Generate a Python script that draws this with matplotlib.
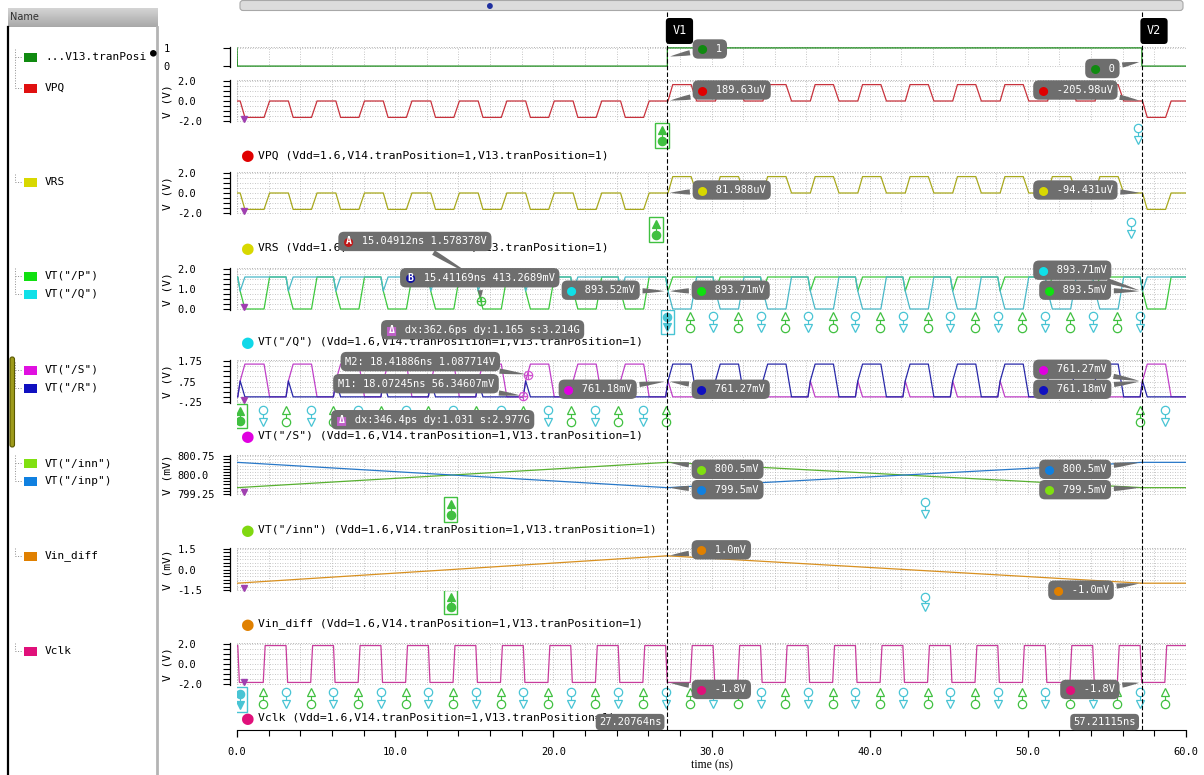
import numpy as np
import matplotlib
matplotlib.use("Agg")
import matplotlib.pyplot as plt
from matplotlib.patches import Rectangle, FancyBboxPatch
from matplotlib.ticker import MultipleLocator

W, H = 1204, 775
MONO = "DejaVu Sans Mono"
plt.rcParams['font.family'] = MONO

# ---------------- data read off the waveform viewer ----------------
# clock edges (ns)
clk_fall = [0.05, 3.1, 6.1, 9.1, 12.1, 15.1, 18.1, 21.1, 24.1, 27.1,
            30.1, 33.1, 36.1, 39.1, 42.1, 45.1, 48.1, 51.1, 54.1, 57.1]
clk_rise = [1.66, 4.66, 7.66, 10.66, 13.66, 16.66, 19.66, 22.66, 25.66, 28.66,
            31.66, 34.66, 37.66, 40.66, 43.66, 46.66, 49.66, 52.66, 55.66, 58.66]
vclk_hi, vclk_lo = 1.8, -1.8

# level reached in every clock-low (evaluation) phase, one per cycle
vpq_eval = [-1.6, -1.6, -1.6, -1.6, -1.6, -1.6, -1.6, -1.6, -1.6, 1.6,
            1.6, 1.6, 1.6, 1.6, 1.6, 1.6, 1.6, 1.6, 1.6, -1.6]
vrs_eval = [-1.6, -1.6, -1.6, -1.6, -1.6, -1.6, -1.6, -1.6, -1.6, 1.6,
            1.6, 1.6, 1.6, 1.6, 1.6, 1.6, 1.6, 1.6, 1.6, -1.6]
p_eval = [0.0, 0.0, 0.0, 0.0, 0.0, 0.0, 0.0, 0.0, 0.0, 1.6,
          1.6, 1.6, 1.6, 1.6, 1.6, 1.6, 1.6, 1.6, 1.6, 0.0]
q_eval = [1.6, 1.6, 1.6, 1.6, 1.6, 1.6, 1.6, 1.6, 1.6, 0.0,
          0.0, 0.0, 0.0, 0.0, 0.0, 0.0, 0.0, 0.0, 0.0, 1.6]
s_eval = [1.6, 1.6, 1.6, 1.6, 1.6, 1.6, 1.6, 1.6, 1.6, 0.0,
          0.0, 0.0, 0.0, 0.0, 0.0, 0.0, 0.0, 0.0, 0.0, 1.6]
r_eval = [0.0, 0.0, 0.0, 0.0, 0.0, 0.0, 0.0, 0.0, 0.0, 1.6,
          1.6, 1.6, 1.6, 1.6, 1.6, 1.6, 1.6, 1.6, 1.6, 0.0]
pq_idle, pq_mid = 1.6, 0.9
sr_idle, sr_mid = 0.0, 0.78

pos_t = [0.0, 0.02, 27.21, 27.21, 57.21, 57.21, 60.0]
pos_v = [1, 0, 0, 1, 1, 0, 0]

ramp_t = [0.0, 27.21, 57.21, 60.0]
inn_mv = [799.5, 800.5, 799.5, 799.5]
inp_mv = [800.5, 799.5, 800.5, 800.5]
vin_diff_mv = [-1.0, 1.0, -1.0, -1.0]

v1, v2 = 27.20764, 57.21115
start_marker_t = 0.45

names = ['...V13.tranPosi', 'VPQ', 'VRS', 'VT("/P")', 'VT("/Q")', 'VT("/S")',
         'VT("/R")', 'VT("/inn")', 'VT("/inp")', 'Vin_diff', 'Vclk']
swatch = ['#108a10', '#e01010', '#d8d800', '#10e010', '#10e0e8', '#e010e0',
          '#1010c0', '#80e010', '#1080e0', '#e08000', '#e0107a']
suffix = ' (Vdd=1.6,V14.tranPosition=1,V13.tranPosition=1)'


def edge_wave(idle, mid, evals):
    t, v = [0.0], [idle]
    for f, r, a in zip(clk_fall, clk_rise, evals):
        t += [f, f + 0.15, f + 0.45, r + 0.05, r + 0.4]
        v += [idle, mid, a, a, idle]
    t.append(60.0)
    v.append(idle)
    return t, v


def clock_wave():
    t, v = [0.0], [vclk_hi]
    for f, r in zip(clk_fall, clk_rise):
        t += [f, f + 0.1, r, r + 0.12]
        v += [vclk_hi, vclk_lo, vclk_lo, vclk_hi]
    t.append(60.0)
    v.append(vclk_hi)
    return t, v


fig = plt.figure(figsize=(W / 100, H / 100), dpi=100)
fig.patch.set_facecolor('white')


def px_axes(x0, y0, x1, y1):
    return fig.add_axes([x0 / W, 1 - y1 / H, (x1 - x0) / W, (y1 - y0) / H])


# ---------------- background chrome (pixel coordinates) ----------------
bg = px_axes(0, 0, W, H)
grad = np.linspace(0.83, 0.66, 20).reshape(-1, 1)
bg.imshow(grad, extent=(8, 158, 27, 8), cmap='gray', vmin=0, vmax=1, aspect='auto')
bg.set_xlim(0, W)
bg.set_ylim(H, 0)
bg.axis('off')
bg.text(10, 17.5, 'Name', fontsize=7, color='#303030', va='center', family='DejaVu Sans')
bg.plot([8, 8], [27, H], color='black', lw=1.6)
bg.plot([157, 157], [27, H], color='#b4b4b4', lw=2)
bg.add_patch(FancyBboxPatch((10, 357), 4.5, 90, boxstyle='round,pad=0,rounding_size=2.2',
                            fc='#9e9b1c', ec='#5a5800', lw=0.8))
bg.text(153, 52, '●', fontsize=8, color='black', ha='center', va='center')
row_y = [57, 88, 182, 276, 294, 370, 388, 463, 481, 556, 651]
groups = [(57, 88), (182, 182), (276, 294), (370, 388), (463, 481), (556, 556), (651, 651)]
for g0, g1 in groups:
    bg.plot([15, 15], [g0 - 8, g1], color='#909090', lw=0.7, ls=':')
for y, n, c in zip(row_y, names, swatch):
    bg.plot([15, 22], [y, y], color='#909090', lw=0.7, ls=':')
    bg.add_patch(Rectangle((24, y - 4.5), 13, 9, fc=c, ec='none'))
    bg.text(45, y, n, fontsize=8, va='center', color='black')

# scroll bar on top
bg.add_patch(FancyBboxPatch((240, 0.5), 943, 10, boxstyle='round,pad=0,rounding_size=3',
                            fc='#dcdcdc', ec='#a8a8a8', lw=0.8))
bg.text(490, 6, '●', fontsize=7, color='#2030a0', ha='center', va='center')

# legend rows under each strip
leg_rows = [(155, '#e00000', 'VPQ'), (248, '#d8d800', 'VRS'), (342, '#10d8e8', 'VT("/Q")'),
            (436, '#e000e0', 'VT("/S")'), (530, '#80d810', 'VT("/inn")'),
            (624, '#e08000', 'Vin_diff'), (718, '#e0107a', 'Vclk')]
for y, c, n in leg_rows:
    bg.text(248, y + 0.5, '●', fontsize=14, color=c, ha='center', va='center')
    bg.text(258, y, n + suffix, fontsize=8.2, va='center', color='black')


# ---------------- event-marker lanes (drawn below the callouts) ----------------
def make_lane(top):
    ax = px_axes(237, top, 1186, top + 36)
    ax.set_xlim(0, 60)
    ax.set_ylim(36, 0)
    ax.axis('off')
    return ax


GRN, CYN = '#40c040', '#48c4d4'


def rise_marks(ax, times, y1, y2, filled=False, boxed=False):
    for t in times:
        ax.plot([t, t], [y1, y2], color=GRN, lw=0.8)
        if boxed:
            ax.add_patch(Rectangle((t - 0.42, y1 - 7), 0.84, y2 - y1 + 14, fill=False, ec=GRN, lw=1))
    fc = GRN if filled else 'white'
    ax.plot(times, [y1] * len(times), ls='none', marker='^', ms=6, mfc=fc, mec=GRN, mew=0.9)
    ax.plot(times, [y2] * len(times), ls='none', marker='o', ms=6, mfc=fc, mec=GRN, mew=0.9)


def fall_marks(ax, times, y1, y2, filled=False, boxed=False):
    for t in times:
        ax.plot([t, t], [y1, y2], color=CYN, lw=0.8)
        if boxed:
            ax.add_patch(Rectangle((t - 0.42, y1 - 7), 0.84, y2 - y1 + 14, fill=False, ec=CYN, lw=1))
    fc = CYN if filled else 'white'
    ax.plot(times, [y1] * len(times), ls='none', marker='o', ms=6, mfc=fc, mec=CYN, mew=0.9)
    ax.plot(times, [y2] * len(times), ls='none', marker='v', ms=6, mfc=fc, mec=CYN, mew=0.9)


lane_vpq = make_lane(122)
rise_marks(lane_vpq, [26.87], 8, 19, filled=True, boxed=True)
fall_marks(lane_vpq, [56.95], 6, 18)
lane_vrs = make_lane(214)
rise_marks(lane_vrs, [26.5], 10, 21, filled=True, boxed=True)
fall_marks(lane_vrs, [56.5], 8, 20)
lane_pq = make_lane(310)
fall_marks(lane_pq, [v1], 7, 17, filled=True, boxed=True)
rise_marks(lane_pq, [t for t in clk_rise if v1 < t < v2], 6, 18)
fall_marks(lane_pq, [t for t in clk_fall if v1 < t < v2], 6, 18)
lane_sr = make_lane(403)
rise_marks(lane_sr, [0.2], 8, 18, filled=True, boxed=True)
fall_marks(lane_sr, [t for t in clk_rise if t < v1], 7, 19)
rise_marks(lane_sr, [t for t in clk_fall if 1 < t < v1], 7, 19)
rise_marks(lane_sr, [t for t in clk_fall if t > v2 - 0.2], 7, 19)
fall_marks(lane_sr, [t for t in clk_rise if t > v2], 7, 19)
lane_in = make_lane(495)
rise_marks(lane_in, [13.5], 9, 20, filled=True, boxed=True)
fall_marks(lane_in, [43.5], 7, 19)
lane_vd = make_lane(591)
rise_marks(lane_vd, [13.5], 6, 16, filled=True, boxed=True)
fall_marks(lane_vd, [43.5], 6, 16)
lane_ck = make_lane(685)
fall_marks(lane_ck, [0.2], 9, 20, filled=True, boxed=True)
rise_marks(lane_ck, clk_rise, 7, 19)
fall_marks(lane_ck, [t for t in clk_fall if t > 1], 7, 19)


# ---------------- strips ----------------
def make_strip(top, bot, ylim, ticks, labels, minor, ylabel, pad=33):
    ax = px_axes(237, top, 1186, bot)
    ax.patch.set_visible(False)
    ax.set_xlim(0, 60)
    ax.set_ylim(ylim)
    for s in ('top', 'right', 'bottom'):
        ax.spines[s].set_visible(False)
    ax.spines['left'].set_position(('outward', 5))
    ax.spines['left'].set_linewidth(0.9)
    ax.set_yticks(ticks)
    ax.set_yticklabels(labels, ha='left', fontsize=7.5)
    if minor:
        ax.yaxis.set_minor_locator(MultipleLocator(minor))
    ax.tick_params(axis='y', which='both', length=5, width=0.8, pad=pad)
    ax.xaxis.set_major_locator(MultipleLocator(2))
    ax.tick_params(axis='x', which='both', length=0, labelbottom=False)
    ax.grid(True, which='both', ls=(0, (1, 2)), color='#b4b4b4', lw=0.6)
    ax.add_patch(Rectangle((0, 0), 1, 1, transform=ax.transAxes, fill=False,
                           ec='#b0b0b0', ls=':', lw=0.7))
    if ylabel:
        ax.set_ylabel(ylabel, fontsize=8)
        ax.yaxis.set_label_coords(-0.068, 0.5)
    return ax


ax_pos = make_strip(47, 67, (-0.05, 1.05), [0, 1], ['0', '1'], None, None, pad=43)
ax_vpq = make_strip(80, 122, (-2.05, 2.05), [-2, 0, 2], ['-2.0', '0.0', '2.0'], 0.5, 'V (V)')
ax_vrs = make_strip(172, 214, (-2.05, 2.05), [-2, 0, 2], ['-2.0', '0.0', '2.0'], 0.5, 'V (V)')
ax_pq = make_strip(268, 310, (-0.05, 2.05), [0, 1, 2], ['0.0', '1.0', '2.0'], 0.25, 'V (V)')
ax_sr = make_strip(360, 403, (-0.3, 1.8), [-0.25, 0.75, 1.75], ['-.25', '.75', '1.75'], 0.25, 'V (V)')
ax_in = make_strip(455, 495, (799.21, 800.79), [799.25, 800.0, 800.75],
                   ['799.25', '800.0', '800.75'], 0.125, 'V (mV)')
ax_vd = make_strip(548, 591, (-1.57, 1.57), [-1.5, 0, 1.5], ['-1.5', '0.0', '1.5'], 0.25, 'V (mV)')
ax_ck = make_strip(643, 685, (-2.05, 2.05), [-2, 0, 2], ['-2.0', '0.0', '2.0'], 0.5, 'V (V)')

lw = 0.9
ax_pos.plot(pos_t, pos_v, color='#1a8a1a', lw=lw)
ax_vpq.plot(*edge_wave(0.0, 0.0, vpq_eval), color='#c8323c', lw=lw)
ax_vrs.plot(*edge_wave(0.0, 0.0, vrs_eval), color='#a8a81c', lw=lw)
ax_pq.plot(*edge_wave(pq_idle, pq_mid, p_eval), color='#3cc83c', lw=lw)
ax_pq.plot(*edge_wave(pq_idle, pq_mid, q_eval), color='#48b8c8', lw=lw)
ax_sr.plot(*edge_wave(sr_idle, sr_mid, s_eval), color='#c040c8', lw=lw)
ax_sr.plot(*edge_wave(sr_idle, sr_mid, r_eval), color='#2828a8', lw=lw)
ax_in.plot(ramp_t, inn_mv, color='#58b030', lw=lw)
ax_in.plot(ramp_t, inp_mv, color='#2878c8', lw=lw)
ax_vd.plot(ramp_t, vin_diff_mv, color='#d89020', lw=lw)
ax_ck.plot(*clock_wave(), color='#c83c9c', lw=lw)

for ax in (ax_vpq, ax_vrs, ax_pq, ax_sr, ax_in, ax_vd, ax_ck):
    ax.plot([start_marker_t], [0.08], marker='v', ms=4, color='#a040b0',
            transform=ax.get_xaxis_transform(), clip_on=False)

# measurement points A/B and M1/M2
ax_pq.plot([15.41169], [0.4132689], marker='o', ms=6, mfc='none', mec='#40c040', mew=0.9)
ax_pq.plot([15.41169], [0.4132689], marker='+', ms=6, color='#40c040', mew=0.9)
ax_sr.plot([18.41886, 18.07245], [1.087714, 0.05634607], ls='none', marker='o', ms=6,
           mfc='none', mec='#d050d0', mew=0.9)
ax_sr.plot([18.41886, 18.07245], [1.087714, 0.05634607], ls='none', marker='+', ms=6,
           color='#d050d0', mew=0.9)

# ---------------- x axis ----------------
ax_x = px_axes(237, 700, 1186, 730)
ax_x.patch.set_visible(False)
ax_x.set_xlim(0, 60)
for s in ('top', 'right', 'left'):
    ax_x.spines[s].set_visible(False)
ax_x.set_yticks([])
ax_x.xaxis.set_major_locator(MultipleLocator(10))
ax_x.xaxis.set_minor_locator(MultipleLocator(2))
ax_x.set_xticklabels([f'{t:.1f}' for t in ax_x.get_xticks()], fontsize=7.5)
ax_x.tick_params(axis='x', which='major', length=5, width=0.9, pad=7)
ax_x.tick_params(axis='x', which='minor', length=4, width=0.8)
ax_x.set_xlabel('time (ns)', fontsize=8.5, family='Liberation Serif', labelpad=2)

# ---------------- callouts ----------------
GRAY = '#6e6e6e'


def callout(ax, xy, off, text, dot=None, badge=None, badge_fc=None, arrow=True, fs=7.5):
    kw = dict(xy=xy, textcoords='offset pixels', va='center', family=MONO, annotation_clip=False)
    ap = None
    if arrow:
        ap = dict(arrowstyle='wedge,tail_width=0.5,shrink_factor=0.6', fc=GRAY, ec='none')
    body = ('   ' + text) if (dot or badge) else text
    ax.annotate(body, xytext=off, ha='left', fontsize=fs, color='white', zorder=30,
                bbox=dict(boxstyle='round,pad=0.45,rounding_size=0.55', fc=GRAY, ec='none'),
                arrowprops=ap, **kw)
    if dot:
        ax.annotate('●', xytext=(off[0] + 1, off[1]), ha='left', fontsize=11, color=dot,
                    zorder=31, **kw)
    if badge:
        ax.annotate('■' if badge_fc == 'sq' else '●', xytext=(off[0] + 1, off[1]), ha='left',
                    fontsize=11, color=badge[1], zorder=31, **kw)
        ax.annotate(badge[0], xytext=(off[0] + 5.6, off[1]), ha='center', fontsize=7,
                    color='white', weight='bold', zorder=32, **kw)


callout(ax_pos, (v1, 0.5), (30, 8), '1', '#108a10')
callout(ax_pos, (v2, 0.25), (-52, -7), '0', '#108a10')
callout(ax_vpq, (v1, 0.0), (30, 11), '189.63uV', '#e00000')
callout(ax_vpq, (v2, 0.0), (-104, 11), '-205.98uV', '#e00000')
callout(ax_vrs, (v1, 0.0), (30, 3), '81.988uV', '#d8d800')
callout(ax_vrs, (v2, 0.0), (-104, 3), '-94.431uV', '#d8d800')
callout(ax_pq, (v1, 0.89), (-101, 1), '893.52mV', '#10e0e8')
callout(ax_pq, (v1, 0.89), (29, 1), '893.71mV', '#10e010')
callout(ax_pq, (v2, 0.89), (-104, 21), '893.71mV', '#10e0e8')
callout(ax_pq, (v2, 0.89), (-98, 1), '893.5mV', '#10e010')
callout(ax_pq, (15.04912, 1.578378), (-132, 36), '15.04912ns 1.578378V', badge=('A', '#c01818'))
callout(ax_pq, (15.41169, 0.4132689), (-76, 23), '15.41169ns 413.2689mV', badge=('B', '#1010a0'))
callout(ax_pq, (15.41169, 0.4132689), (-95, -29), 'dx:362.6ps dy:1.165 s:3.214G',
        badge=('Δ', '#c060c8'), badge_fc='sq', arrow=False)
callout(ax_sr, (v1, 0.761), (-104, -8), '761.18mV', '#e000e0')
callout(ax_sr, (v1, 0.761), (29, -8), '761.27mV', '#1010c0')
callout(ax_sr, (v2, 0.761), (-104, 12), '761.27mV', '#e000e0')
callout(ax_sr, (v2, 0.761), (-104, -8), '761.18mV', '#1010c0')
callout(ax_sr, (18.41886, 1.087714), (-183, 13), 'M2: 18.41886ns 1.087714V')
callout(ax_sr, (18.07245, 0.05634607), (-185, 12), 'M1: 18.07245ns 56.34607mV')
callout(ax_sr, (18.07245, 0.05634607), (-187, -24), 'dx:346.4ps dy:1.031 s:2.977G',
        badge=('Δ', '#c060c8'), badge_fc='sq', arrow=False)
callout(ax_in, (v1, 800.5), (29, -7), '800.5mV', '#80e010')
callout(ax_in, (v1, 799.5), (29, -2), '799.5mV', '#1080e0')
callout(ax_in, (v2, 800.5), (-98, -7), '800.5mV', '#1080e0')
callout(ax_in, (v2, 799.5), (-98, -2), '799.5mV', '#80e010')
callout(ax_vd, (v1, 1.0), (29, 6), '1.0mV', '#e08000')
callout(ax_vd, (v2, -1.0), (-89, -7), '-1.0mV', '#e08000')
callout(ax_ck, (v1, -1.8), (29, -7), '-1.8V', '#e0107a')
callout(ax_ck, (v2, -1.8), (-77, -7), '-1.8V', '#e0107a')

# ---------------- cursors ----------------
cur = px_axes(237, 0, 1186, H)
cur.set_xlim(0, 60)
cur.set_ylim(H, 0)
cur.axis('off')
for v, name in ((v1, 'V1'), (v2, 'V2')):
    cur.plot([v, v], [12, 730], color='black', lw=0.8, ls=(0, (4, 2)))
    cur.annotate(name, xy=(v, 31), xytext=(5, 0), textcoords='offset pixels', ha='left',
                 va='center', color='white', fontsize=8.5,
                 bbox=dict(boxstyle='round,pad=0.55,rounding_size=0.3', fc='black', ec='none'))
    cur.annotate(f'{v:.5f}ns', xy=(v, 722), xytext=(-6, 0), textcoords='offset pixels',
                 ha='right', va='center', color='white', fontsize=7.5,
                 bbox=dict(boxstyle='round,pad=0.3,rounding_size=0.4', fc='#6e6e6e', ec='none'))

fig.savefig('out.png', dpi=100)
